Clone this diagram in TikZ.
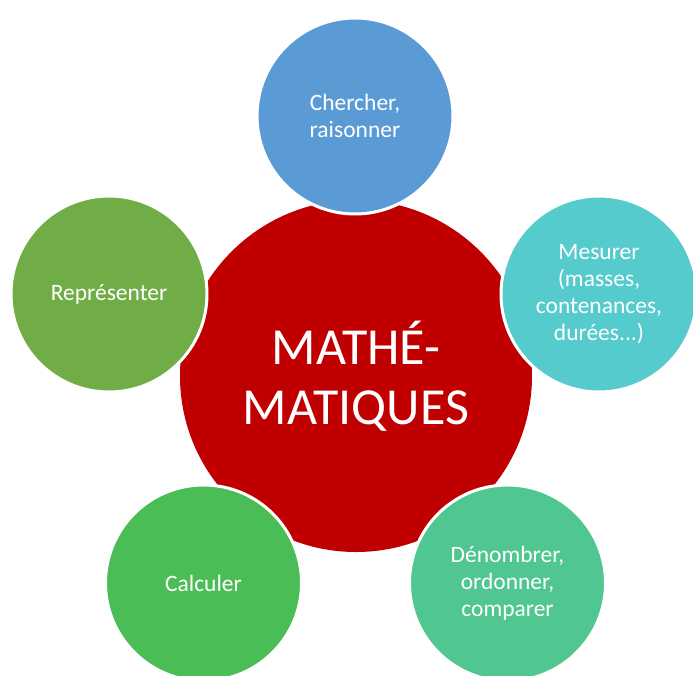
\documentclass[tikz,border=0pt]{standalone}
\usepackage{fontspec}
\setmainfont{Carlito}
\definecolor{cred}{HTML}{C00000}
\definecolor{cblue}{HTML}{5B9BD5}
\definecolor{cteal}{HTML}{55CBCD}
\definecolor{cgreenA}{HTML}{70AD47}
\definecolor{cgreenB}{HTML}{4ABD56}
\definecolor{cgreenC}{HTML}{50C690}
\tikzset{
  center/.style={circle, fill=cred, minimum size=352pt, inner sep=0pt, text=white,
    align=center, font=\fontsize{52}{60}\selectfont},
  outer/.style={circle, draw=white, line width=3pt, minimum size=196pt, inner sep=0pt,
    text=white, align=center, font=\fontsize{23.5}{27}\selectfont}
}
\begin{document}
\begin{tikzpicture}[x=1pt,y=-1pt]
\useasboundingbox (0,0) rectangle (693,675);
\node[center] (m) at (356,376) {MATHÉ-\\MATIQUES};
\node[outer, fill=cblue] (a) at (355,116) {Chercher,\\raisonner};
\node[outer, fill=cteal] (b) at (599,294) {Mesurer\\(masses,\\contenances,\\durées...)};
\node[outer, fill=cgreenC] (c) at (507.5,583) {Dénombrer,\\ordonner,\\comparer};
\node[outer, fill=cgreenB] (d) at (203.5,583) {Calculer};
\node[outer, fill=cgreenA] (e) at (109,294) {Représenter};
\end{tikzpicture}
\end{document}
